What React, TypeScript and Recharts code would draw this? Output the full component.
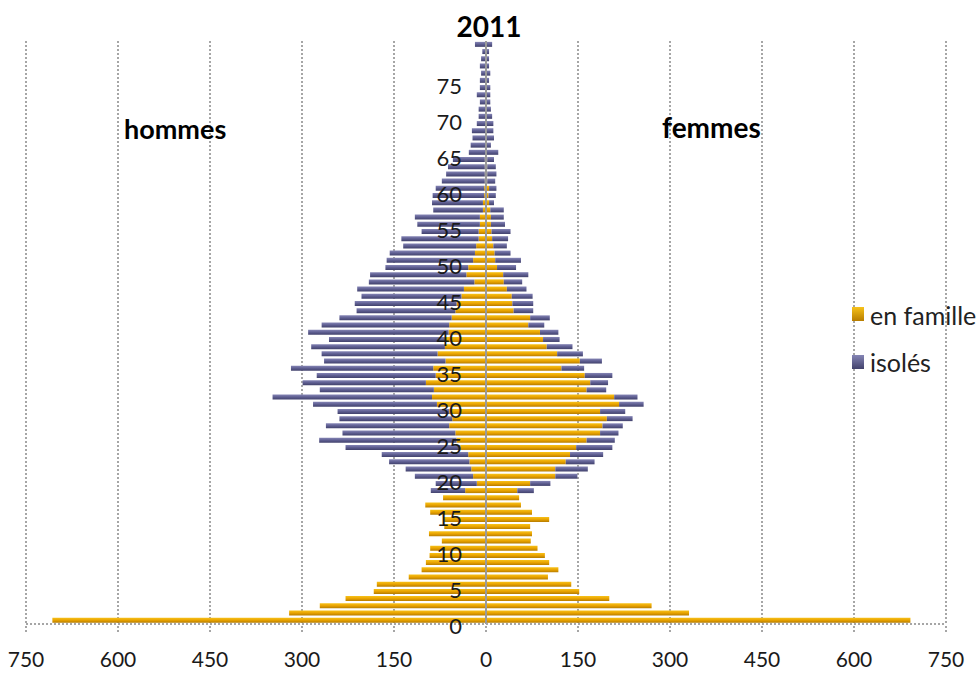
import { BarChart, Bar, XAxis, YAxis, CartesianGrid, ReferenceLine, LabelList } from 'recharts';

// age 0 .. 80
const ages = [
  0, 1, 2, 3, 4, 5, 6, 7, 8, 9,
  10, 11, 12, 13, 14, 15, 16, 17, 18, 19,
  20, 21, 22, 23, 24, 25, 26, 27, 28, 29,
  30, 31, 32, 33, 34, 35, 36, 37, 38, 39,
  40, 41, 42, 43, 44, 45, 46, 47, 48, 49,
  50, 51, 52, 53, 54, 55, 56, 57, 58, 59,
  60, 61, 62, 63, 64, 65, 66, 67, 68, 69,
  70, 71, 72, 73, 74, 75, 76, 77, 78, 79, 80,
];

const hommesFamille = [
  707, 321, 271, 229, 183, 178, 126, 105, 98, 92,
  91, 72, 93, 68, 68, 91, 99, 70, 34, 15,
  21, 24, 27, 29, 42, 48, 50, 60, 55, 60,
  80, 88, 85, 98, 82, 86, 66, 79, 67, 67,
  61, 60, 56, 50, 48, 40, 36, 19, 32, 29,
  21, 18, 16, 12, 12, 10, 10, 5, 5, 3,
  3, 2, 2, 2, 2, 1, 1, 1, 1, 1,
  0, 0, 0, 0, 0, 0, 0, 0, 0, 0, 0,
];

const hommesIsoles = [
  0, 0, 0, 0, 0, 0, 0, 0, 0, 0,
  0, 0, 0, 0, 0, 0, 0, 0, 56, 67,
  95, 107, 131, 141, 187, 224, 184, 201, 184, 182,
  202, 260, 186, 201, 194, 232, 198, 189, 218, 189,
  229, 208, 183, 161, 166, 163, 174, 172, 157, 135,
  141, 139, 119, 126, 93, 102, 106, 81, 83, 84,
  79, 70, 63, 60, 52, 27, 24, 21, 22, 14,
  12, 12, 10, 15, 10, 10, 8, 10, 8, 6, 18,
];

const femmesFamille = [
  692, 331, 270, 201, 152, 139, 101, 118, 103, 96,
  84, 73, 75, 72, 103, 75, 57, 54, 51, 72,
  113, 113, 130, 137, 147, 164, 186, 190, 197, 186,
  217, 209, 164, 170, 161, 123, 153, 116, 99, 93,
  88, 69, 72, 45, 43, 42, 34, 29, 28, 18,
  15, 14, 12, 10, 9, 8, 8, 7, 5, 4,
  5, 2, 2, 2, 2, 1, 1, 1, 1, 1,
  0, 0, 0, 0, 0, 0, 0, 0, 0, 0, 0,
];

const femmesIsoles = [
  0, 0, 0, 0, 0, 0, 0, 0, 0, 0,
  0, 0, 0, 0, 0, 0, 0, 0, 27, 33,
  36, 53, 47, 54, 59, 46, 30, 33, 42, 41,
  40, 38, 32, 29, 45, 37, 36, 42, 42, 27,
  30, 26, 32, 32, 34, 34, 32, 30, 41, 31,
  42, 26, 22, 26, 31, 23, 21, 22, 8, 12,
  12, 13, 15, 14, 11, 19, 7, 12, 11, 11,
  10, 8, 7, 7, 7, 5, 7, 5, 5, 5, 10,
];

const xTicks = [-750, -600, -450, -300, -150, 0, 150, 300, 450, 600, 750];
const ageTicks = [0, 5, 10, 15, 20, 25, 30, 35, 40, 45, 50, 55, 60, 65, 70, 75];

const data = ages.map((age, i) => ({
  age,
  ageLabel: String(age),
  hFam: -hommesFamille[i],
  hIso: -hommesIsoles[i],
  fFam: femmesFamille[i],
  fIso: femmesIsoles[i],
}));

const FONT = 'Lato, "Open Sans", sans-serif';
const GRID = '#a6a6a6';
const LABEL_X = 462;

const ValueTick = (props: any) => {
  const { x, y, payload } = props;
  return (
    <text x={x} y={y} dy={35} textAnchor="middle" fontSize={21} fill="#1a1a1a" fontFamily={FONT}>
      {Math.abs(payload.value)}
    </text>
  );
};

// age labels sit next to the zero line, over the bars.
// young ages hang off the "en famille" bar, older ones off the "isolés" bar
const makeAgeLabel = (from: number, to: number) => (props: any) => {
  const { y, height, value } = props;
  const age = Number(value);
  if (!ageTicks.includes(age) || age < from || age > to) return null;
  return (
    <text key={`age-${age}`} x={LABEL_X} y={y + height / 2 + 5} textAnchor="end"
      dominantBaseline="central" fontSize={22} fill="#1a1a1a" fontFamily={FONT}>
      {age}
    </text>
  );
};

export default function App() {
  return (
    <div style={{ position: 'absolute', left: 0, top: 0, width: 979, height: 673, background: '#fff' }}>
      <BarChart
        width={979}
        height={673}
        data={data}
        layout="vertical"
        stackOffset="sign"
        barCategoryGap="12%"
        margin={{ top: 41, right: 33, bottom: 0, left: 26 }}
      >
        <defs>
          <linearGradient id="gFam" x1="0" y1="0" x2="0" y2="1">
            <stop offset="0%" stopColor="#f7c21a" />
            <stop offset="50%" stopColor="#e9a300" />
            <stop offset="100%" stopColor="#b77d00" />
          </linearGradient>
          <linearGradient id="gIso" x1="0" y1="0" x2="0" y2="1">
            <stop offset="0%" stopColor="#8585b5" />
            <stop offset="50%" stopColor="#5e5e91" />
            <stop offset="100%" stopColor="#42426c" />
          </linearGradient>
        </defs>
        <CartesianGrid vertical horizontal={false} stroke={GRID} strokeWidth={2} strokeDasharray="2 2" />
        <XAxis
          type="number"
          domain={[-750, 750]}
          ticks={xTicks}
          height={49}
          axisLine={{ stroke: GRID, strokeWidth: 2, strokeDasharray: '2 2' }}
          tickLine={{ stroke: GRID, strokeWidth: 2, strokeDasharray: '2 2' }}
          tickSize={8}
          tickMargin={0}
          tick={<ValueTick />}
          interval={0}
        />
        <YAxis type="category" dataKey="age" reversed width={0} axisLine={false} tickLine={false} tick={false} />
        <Bar dataKey="hFam" stackId="p" fill="url(#gFam)" isAnimationActive={false}>
          <LabelList dataKey="ageLabel" content={makeAgeLabel(0, 17)} />
        </Bar>
        <Bar dataKey="hIso" stackId="p" fill="url(#gIso)" isAnimationActive={false}>
          <LabelList dataKey="ageLabel" content={makeAgeLabel(18, 80)} />
        </Bar>
        <Bar dataKey="fFam" stackId="p" fill="url(#gFam)" isAnimationActive={false} />
        <Bar dataKey="fIso" stackId="p" fill="url(#gIso)" isAnimationActive={false} />
        <ReferenceLine x={0} stroke="#9a9a9a" strokeWidth={2} />
      </BarChart>
      <svg width={979} height={673} style={{ position: 'absolute', left: 0, top: 0, pointerEvents: 'none' }}>
        <defs>
          <linearGradient id="lFam" x1="0" y1="0" x2="0" y2="1">
            <stop offset="0%" stopColor="#f7c21a" />
            <stop offset="100%" stopColor="#b77d00" />
          </linearGradient>
          <linearGradient id="lIso" x1="0" y1="0" x2="0" y2="1">
            <stop offset="0%" stopColor="#8585b5" />
            <stop offset="100%" stopColor="#42426c" />
          </linearGradient>
        </defs>
        <text x={489} y={37} textAnchor="middle" fontSize={28} fontWeight="bold" fill="#000" fontFamily={FONT}>2011</text>
        <text x={124} y={139} fontSize={27} fontWeight="bold" fill="#000" fontFamily={FONT}>hommes</text>
        <text x={662} y={138} fontSize={28} fontWeight="bold" fill="#000" fontFamily={FONT}>femmes</text>
        <rect x={852} y={307} width={12} height={14} fill="url(#lFam)" />
        <text x={870} y={325} fontSize={25} fill="#222" fontFamily={FONT}>en famille</text>
        <rect x={852} y={355} width={12} height={14} fill="url(#lIso)" />
        <text x={870} y={372} fontSize={25} fill="#222" fontFamily={FONT}>isolés</text>
      </svg>
    </div>
  );
}
